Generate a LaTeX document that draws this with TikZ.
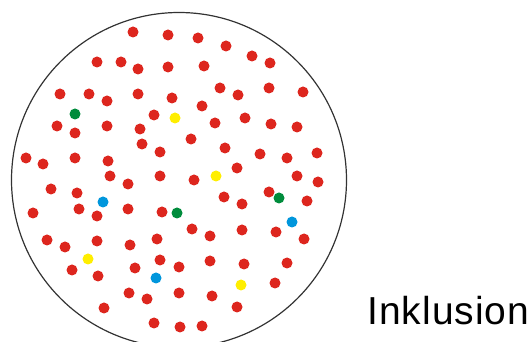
\documentclass[tikz,border=0pt]{standalone}
\usepackage{fontspec}
\setmainfont{Liberation Sans}
\newfontfamily\labelfont[LetterSpace=2.5]{Liberation Sans}
\definecolor{dotred}{RGB}{221,38,30}
\definecolor{dotgreen}{RGB}{0,140,60}
\definecolor{dotyellow}{RGB}{255,238,0}
\definecolor{dotblue}{RGB}{0,150,220}

\begin{document}
\begin{tikzpicture}[x=1pt, y=-1pt, line width=1pt]
            \useasboundingbox (0,0) rectangle (531,342);
            % Kristall (Kreis)
            \draw[black!80, line width=1.2pt] (179,180) circle (167.5pt);

            % rote Punkte (Matrix)
            \foreach \x/\y in {133/32,168/35,97/62,121/62,138/69,168/67,60/94,89/94,107/101,138/94,
                172/98,154/115,57/126,75/133,107/126,140/129,142/144,160/152,26/158,43/164,
                75/158,108/161,110/176,160/176,198/38,226/46,252/56,270/63,204/66,220/88,
                238/95,269/88,303/92,202/106,215/123,245/118,271/124,297/127,191/139,225/148,
                260/154,287/158,317/153,237/168,297/176,128/184,51/189,77/193,79/209,97/216,
                128/209,162/212,33/213,47/240,65/247,97/241,130/245,157/239,72/270,98/276,
                135/268,160/260,129/293,147/299,104/308,154/323,194/180,318/182,224/197,242/204,
                269/192,307/201,192/229,210/236,242/230,276/232,304/239,179/267,210/261,244/264,
                287/263,275/283,179/293,212/296,237/307,180/327,202/326}
                \fill[dotred] (\x,\y) circle (5.5pt);

            % Einschluesse
            \foreach \x/\y in {75/114,177/213,279/198}
                \fill[dotgreen] (\x,\y) circle (5.5pt);
            \foreach \x/\y in {175/118,216/176,88/259,241/285}
                \fill[dotyellow] (\x,\y) circle (5.5pt);
            \foreach \x/\y in {103/202,292/222,156/278}
                \fill[dotblue] (\x,\y) circle (5.5pt);

            \node[anchor=base west, inner sep=0pt, font=\labelfont\fontsize{39}{39}\selectfont] (label) at (367,324) {Inklusion};
        \end{tikzpicture}
\end{document}
